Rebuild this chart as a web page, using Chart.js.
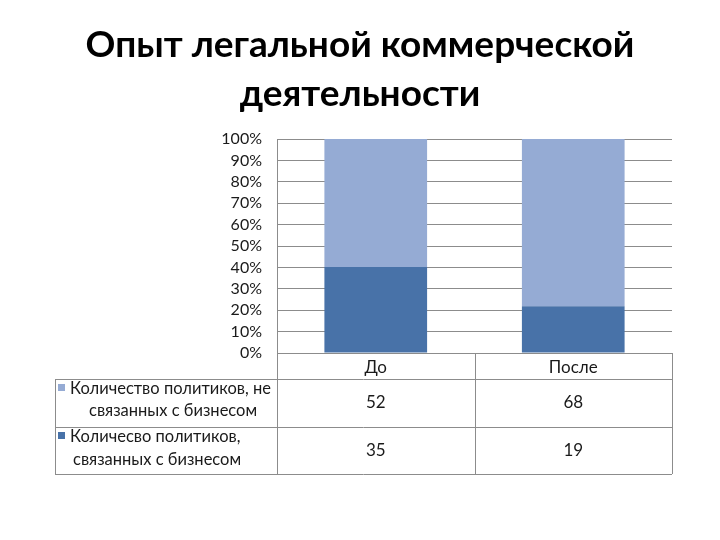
<!DOCTYPE html>
<html>
<head>
<meta charset="utf-8">
<script src="https://cdn.jsdelivr.net/npm/chart.js@4.4.1/dist/chart.umd.min.js"></script>
<style>
  html, body { margin: 0; padding: 0; background: #fff; }
</style>
</head>
<body>
<canvas id="chart" width="720" height="540"></canvas>
<script>
// data
const categories = ["До", "После"];
const notLinked = [52, 68];
const linked = [35, 19];
const notLinkedName = ["Количество политиков, не", "связанных с бизнесом"];
const linkedName = ["Количесво политиков,", "связанных с бизнесом"];
const titleLines = ["Опыт легальной коммерческой", "деятельности"];
const yTicks = [0, 10, 20, 30, 40, 50, 60, 70, 80, 90, 100];

const lightBlue = "#95abd4";
const darkBlue = "#4872a8";
const gridGrey = "#8c8c8c";
const textColor = "#1a1a1a";
const font = "Lato, 'Open Sans', 'DejaVu Sans', sans-serif";

// share of each series in the category total
const share = (arr) => arr.map((v, i) => (v / (notLinked[i] + linked[i])) * 100);

// title centred on the whole slide
const slideTitle = {
  id: "slideTitle",
  afterDraw(chart) {
    const ctx = chart.ctx;
    ctx.save();
    ctx.font = "bold 37px " + font;
    ctx.fillStyle = "#000";
    ctx.textAlign = "center";
    ctx.textBaseline = "middle";
    ctx.fillText(titleLines[0], 360, 45);
    ctx.fillText(titleLines[1], 360, 94);
    ctx.restore();
  },
};

// draws the data table under the plot (lines, legend keys, values)
const dataTable = {
  id: "dataTable",
  afterDraw(chart) {
    const ctx = chart.ctx;
    const area = chart.chartArea;
    const x = chart.scales.x;
    const left = 55;
    const row1 = area.bottom + 26;
    const row2 = row1 + 48;
    const bottom = row2 + 47;
    const step = x.getPixelForValue(1) - x.getPixelForValue(0);

    ctx.save();
    ctx.strokeStyle = gridGrey;
    ctx.lineWidth = 1;
    ctx.beginPath();
    // horizontal lines
    [row1, row2, bottom].forEach((y) => {
      ctx.moveTo(left, y + 0.5);
      ctx.lineTo(area.right, y + 0.5);
    });
    // verticals
    ctx.moveTo(left + 0.5, row1);
    ctx.lineTo(left + 0.5, bottom);
    ctx.moveTo(area.left + 0.5, area.bottom);
    ctx.lineTo(area.left + 0.5, bottom);
    categories.forEach((c, i) => {
      const xr = Math.round(x.getPixelForValue(i) + step / 2) + 0.5;
      ctx.moveTo(xr, area.bottom);
      ctx.lineTo(xr, bottom);
    });
    ctx.stroke();

    // legend keys and names
    ctx.font = "16.5px " + font;
    ctx.textAlign = "left";
    ctx.textBaseline = "middle";
    ctx.fillStyle = lightBlue;
    ctx.fillRect(left + 3, row1 + 5, 7, 7);
    ctx.fillStyle = textColor;
    ctx.fillText(notLinkedName[0], left + 15, row1 + 10);
    ctx.fillText(notLinkedName[1], left + 34, row1 + 32);
    ctx.fillStyle = darkBlue;
    ctx.fillRect(left + 3, row2 + 5, 7, 7);
    ctx.fillStyle = textColor;
    ctx.fillText(linkedName[0], left + 15, row2 + 10);
    ctx.fillText(linkedName[1], left + 18, row2 + 33);

    // values
    ctx.font = "17px " + font;
    ctx.textAlign = "center";
    categories.forEach((c, i) => {
      const cx = x.getPixelForValue(i);
      ctx.fillText(String(notLinked[i]), cx, (row1 + row2) / 2);
      ctx.fillText(String(linked[i]), cx, (row2 + bottom) / 2);
    });
    ctx.restore();
  },
};

new Chart(document.getElementById("chart"), {
  type: "bar",
  data: {
    labels: categories,
    datasets: [
      {
        label: linkedName.join(" "),
        data: share(linked),
        backgroundColor: darkBlue,
        barPercentage: 0.52,
        categoryPercentage: 1,
      },
      {
        label: notLinkedName.join(" "),
        data: share(notLinked),
        backgroundColor: lightBlue,
        barPercentage: 0.52,
        categoryPercentage: 1,
      },
    ],
  },
  options: {
    responsive: false,
    animation: false,
    layout: { padding: { left: 0, right: 48, top: 139, bottom: 66 } },
    plugins: {
      legend: { display: false },
      tooltip: { enabled: false },
      title: { display: false },
    },
    scales: {
      x: {
        stacked: true,
        grid: { display: false, drawTicks: false },
        border: { display: false },
        ticks: { color: textColor, font: { family: font, size: 17 }, padding: 4 },
        afterFit(scale) { scale.height = 121; },
      },
      y: {
        stacked: true,
        min: 0,
        max: 100,
        afterBuildTicks(scale) { scale.ticks = yTicks.map((v) => ({ value: v })); },
        ticks: {
          color: textColor,
          font: { family: font, size: 16 },
          padding: 15,
          autoSkip: false,
          callback: (v) => v + "%",
        },
        grid: { color: gridGrey, drawTicks: false },
        border: { color: gridGrey },
        afterFit(scale) { scale.width = 277; },
      },
    },
  },
  plugins: [dataTable, slideTitle],
});
</script>
</body>
</html>
